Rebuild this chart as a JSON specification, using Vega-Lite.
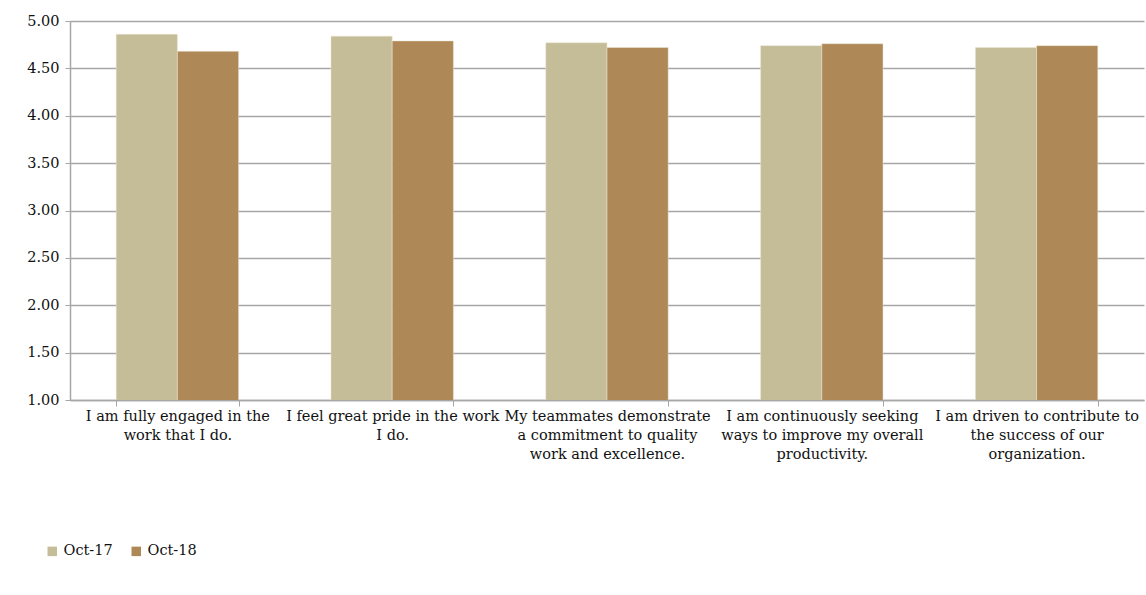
{
  "$schema": "https://vega.github.io/schema/vega-lite/v6.json",
  "width": 1074,
  "height": 379,
  "autosize": "none",
  "padding": {"left": 70, "top": 21, "right": 2, "bottom": 195},
  "background": "white",
  "data": {
    "values": [
      {"q": "I am fully engaged in the|work that I do.", "period": "Oct-17", "score": 4.86},
      {"q": "I am fully engaged in the|work that I do.", "period": "Oct-18", "score": 4.68},
      {"q": "I feel great pride in the work|I do.", "period": "Oct-17", "score": 4.84},
      {"q": "I feel great pride in the work|I do.", "period": "Oct-18", "score": 4.79},
      {"q": "My teammates demonstrate|a commitment to quality|work and excellence.", "period": "Oct-17", "score": 4.77},
      {"q": "My teammates demonstrate|a commitment to quality|work and excellence.", "period": "Oct-18", "score": 4.72},
      {"q": "I am continuously seeking|ways to improve my overall|productivity.", "period": "Oct-17", "score": 4.74},
      {"q": "I am continuously seeking|ways to improve my overall|productivity.", "period": "Oct-18", "score": 4.76},
      {"q": "I am driven to contribute to|the success of our|organization.", "period": "Oct-17", "score": 4.72},
      {"q": "I am driven to contribute to|the success of our|organization.", "period": "Oct-18", "score": 4.74}
    ]
  },
  "mark": {"type": "bar", "stroke": "#ece6d6", "strokeWidth": 0.5, "clip": true},
  "encoding": {
    "x": {
      "field": "q",
      "type": "nominal",
      "sort": null,
      "title": null,
      "scale": {"paddingInner": 0.43, "paddingOuter": 0.215},
      "axis": {
        "labelExpr": "datum.value ? split(datum.value, '|') : ''",
        "labelAngle": 0,
        "labelFont": "DejaVu Serif",
        "labelFontSize": 14.5,
        "labelColor": "#111111",
        "labelLineHeight": 19,
        "labelPadding": 3,
        "labelLimit": 300,
        "labelOverlap": false,
        "tickBand": "extent",
        "tickColor": "#a6a6a6",
        "tickSize": 6,
        "domainColor": "#a6a6a6",
        "domainWidth": 1.5
      }
    },
    "xOffset": {"field": "period", "type": "nominal", "sort": ["Oct-17", "Oct-18"]},
    "y": {
      "field": "score",
      "type": "quantitative",
      "title": null,
      "scale": {"domain": [1, 5], "nice": false, "zero": false},
      "axis": {
        "values": [1, 1.5, 2, 2.5, 3, 3.5, 4, 4.5, 5],
        "format": ".2f",
        "labelFont": "DejaVu Serif",
        "labelFontSize": 14.5,
        "labelColor": "#111111",
        "labelPadding": 6,
        "tickColor": "#a6a6a6",
        "tickSize": 5,
        "domainColor": "#a6a6a6",
        "domainWidth": 1.5,
        "gridColor": "#a6a6a6",
        "gridWidth": 1.5
      }
    },
    "color": {
      "field": "period",
      "type": "nominal",
      "scale": {"domain": ["Oct-17", "Oct-18"], "range": ["#c4bd97", "#ae8957"]},
      "legend": {
        "title": null,
        "orient": "none",
        "direction": "horizontal",
        "legendX": -25,
        "legendY": 523,
        "symbolType": "square",
        "symbolSize": 90,
        "symbolStrokeWidth": 0,
        "labelFont": "DejaVu Serif",
        "labelFontSize": 14.5,
        "labelColor": "#111111",
        "labelOffset": 4,
        "columnPadding": 16
      }
    }
  },
  "config": {"view": {"stroke": null}}
}
